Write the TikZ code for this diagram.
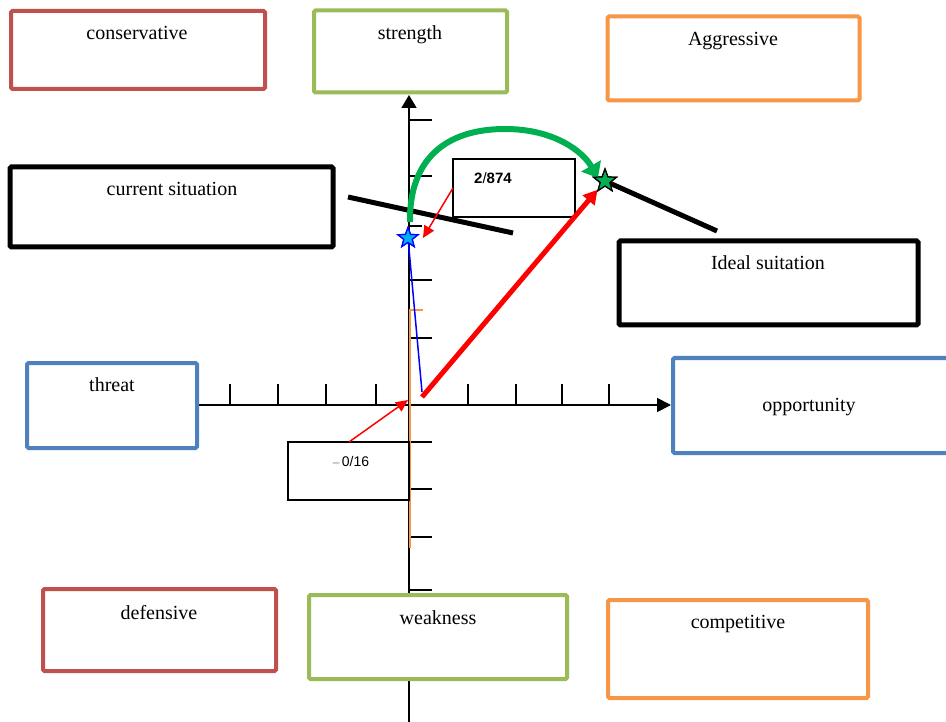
\documentclass[tikz,border=0pt]{standalone}
\usepackage{fontspec}
\setmainfont{Liberation Serif}
\newfontfamily\sansf{Liberation Sans}
\usetikzlibrary{shapes.geometric,arrows.meta}
\definecolor{boxred}{HTML}{C0504D}
\definecolor{boxgreen}{HTML}{9BBB59}
\definecolor{boxorange}{HTML}{F79646}
\definecolor{boxblue}{HTML}{4F81BD}
\definecolor{arcgreen}{HTML}{00B050}
\definecolor{starfill}{HTML}{00B0F0}
\begin{document}
\begin{tikzpicture}[x=1pt,y=-1pt,
  quad/.style={draw, rounded corners=1.5pt, fill=white, inner sep=0pt, line width=4pt},
  blackquad/.style={quad, draw=black, line width=5pt},
  lbl/.style={anchor=base, font=\fontsize{20}{24}\selectfont, inner sep=0pt},
  axisline/.style={line width=1.8pt},
  tickmark/.style={line width=1.8pt},
  thinred/.style={red, line width=1.5pt, -{Triangle[length=12pt,width=11pt]}},
  thickred/.style={red, line width=5pt, -{Triangle[length=14pt,width=15pt]}},
  arcstyle/.style={arcgreen, line width=6pt, -{Triangle[length=14pt,width=22pt]}},
  thickblack/.style={line width=5pt},
  numbox/.style={draw, line width=1.3pt, inner sep=0pt},
  bluestar/.style={star, star points=5, star point ratio=2.4, minimum size=21pt, inner sep=0pt, draw=blue, fill=starfill, line width=1.2pt},
  greenstar/.style={star, star points=5, star point ratio=2.4, minimum size=24pt, inner sep=0pt, draw=black, fill=arcgreen, line width=1.2pt}
]
\useasboundingbox (0,0) rectangle (946,722);

% axes
\coordinate (ybot) at (409,722);
\coordinate (ytop) at (409,95);
\coordinate (xleft) at (199,405);
\coordinate (xright) at (671,405);
\draw[axisline,-{Triangle[length=13pt,width=15pt]}] (ybot) -- (ytop);
\draw[axisline,-{Triangle[length=14pt,width=14pt]}] (xleft) -- (xright);

% ticks on vertical axis
\foreach \yy in {120,176,280,338,442,489,537,590}
  \draw[tickmark] (409,\yy) -- (432,\yy);
\draw[tickmark] (409,226) -- (422,226);
% ticks on horizontal axis
\foreach \xx in {230,278,326,376,468,516,562,609}
  \draw[tickmark] (\xx,405) -- (\xx,384);

% orange line
\coordinate (otop) at (410,310);
\coordinate (obot) at (410,548);
\coordinate (otick) at (423,310);
\draw[boxorange, line width=2pt] (obot) -- (otop) -- (otick);

% number boxes
\node[numbox, minimum width=121pt, minimum height=58pt] (negbox) at (348.5,471) {};
\node[font=\sansf\fontsize{14}{16}\selectfont, inner sep=0pt] (negtxt) at (351,461) {{\color{gray}\fontsize{12}{14}\selectfont –}\,0/16};
\node[numbox, minimum width=122pt, minimum height=58pt] (posbox) at (514,188) {};
\node[font=\sansf\bfseries\fontsize{15}{18}\selectfont, inner sep=0pt] (postxt) at (493,178) {2{\mdseries/}874};

% stars (under the lines)
\node[bluestar] (bstar) at (408,238) {};
\node[greenstar] (gstar) at (605,181) {};

% blue line
\coordinate (bend) at (422,392);
\draw[blue, line width=1.5pt] (bstar.center) -- (bend);

% black lines
\coordinate (bl1a) at (348,197);
\coordinate (bl1b) at (513,233);
\draw[thickblack] (bl1a) -- (bl1b);
\coordinate (bl2b) at (717,231);
\draw[thickblack] (gstar.center) -- (bl2b);

% red arrows
\coordinate (rstart) at (422,397);
\draw[thickred] (rstart) -- (gstar);
\coordinate (neg1) at (349,442);
\coordinate (neg2) at (408,400);
\draw[thinred] (neg1) -- (neg2);
\coordinate (pos1) at (453,188);
\coordinate (pos2) at (423,238);
\draw[thinred] (pos1) -- (pos2);

% green arc
\coordinate (arcs) at (410,222);
\coordinate (arcm) at (505,129);
\coordinate (arce) at (598,178);
\draw[arcstyle] (arcs) .. controls (409,160) and (445,129) .. (arcm) .. controls (555,129) and (583,152) .. (arce);

% stars on top
\node[greenstar] (gstartop) at (605,181) {};
\node[bluestar] (bstartop) at (408,238) {};

% quadrant boxes
\node[quad, draw=boxred, minimum width=254pt, minimum height=78pt] (cons) at (138,50) {};
\node[lbl] (conslbl) at (137,40) {conservative};
\node[quad, draw=boxgreen, minimum width=193pt, minimum height=82pt] (stren) at (410.5,51.5) {};
\node[lbl] (strenlbl) at (410,40) {strength};
\node[quad, draw=boxorange, minimum width=252pt, minimum height=84pt] (aggr) at (733.5,58.5) {};
\node[lbl] (aggrlbl) at (733,46) {Aggressive};
\node[blackquad, minimum width=323pt, minimum height=80pt] (cur) at (171.5,207) {};
\node[lbl] (curlbl) at (172,196) {current situation};
\node[blackquad, minimum width=299pt, minimum height=84pt] (ideal) at (768.5,283) {};
\node[lbl] (ideallbl) at (768,270) {Ideal suitation};
\node[quad, draw=boxblue, minimum width=170pt, minimum height=85pt] (threat) at (112,405.5) {};
\node[lbl] (threatlbl) at (112,391) {threat};
\node[quad, draw=boxblue, minimum width=275pt, minimum height=95pt] (opp) at (810.5,405.5) {};
\node[lbl] (opplbl) at (809,411) {opportunity};
\node[quad, draw=boxred, minimum width=233pt, minimum height=82pt] (def) at (159.5,630) {};
\node[lbl] (deflbl) at (159,619) {defensive};
\node[quad, draw=boxgreen, minimum width=258pt, minimum height=84pt] (weak) at (438,637) {};
\node[lbl] (weaklbl) at (438,624) {weakness};
\node[quad, draw=boxorange, minimum width=260pt, minimum height=98pt] (comp) at (738,649) {};
\node[lbl] (complbl) at (738,628) {competitive};
\end{tikzpicture}
\end{document}
